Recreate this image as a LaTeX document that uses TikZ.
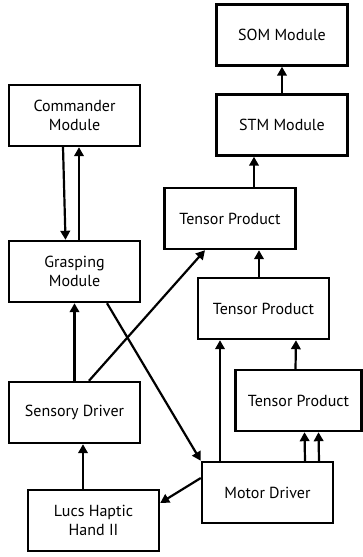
\documentclass[tikz,border=0pt]{standalone}
\usepackage{fontspec}
\setmainfont{PT Sans}
\usetikzlibrary{arrows.meta}
\begin{document}
\begin{tikzpicture}[
  x=1pt, y=-1pt,
  box/.style={rectangle, draw, line width=2.4pt, minimum width=131pt, minimum height=61pt,
    align=center, font=\fontsize{16}{19.5}\selectfont, inner sep=2pt},
  e/.style={line width=2.2pt, -{Triangle[length=9pt,width=9.5pt]}}
]
\useasboundingbox (0,0) rectangle (363,557);
% module boxes
\node[box] (som) at (282,35) {SOM Module};
\node[box] (stm) at (282,125) {STM Module};
\node[box] (comm) at (74.5,115.5) {Commander\\Module};
\node[box] (tp1) at (230,218.5) {Tensor Product};
\node[box] (grasp) at (74.5,271.5) {Grasping\\Module};
\node[box] (tp2) at (263.5,308.5) {Tensor Product};
\node[box, minimum width=126pt] (tp3) at (298.5,400.5) {Tensor Product};
\node[box] (sens) at (74.5,412.5) {Sensory Driver};
\node[box] (motor) at (267.5,492.5) {Motor Driver};
\node[box] (lucs) at (93.5,520.5) {Lucs Haptic\\Hand II};

% vertical links
\draw[e] ([xshift=-11.5pt]comm.south) -- ([xshift=-9pt]grasp.north);
\draw[e] ([xshift=4.5pt]grasp.north) -- ([xshift=4.5pt]comm.south);
\draw[e] (stm.north) -- (som.south);
\draw[e] ([xshift=24pt]tp1.north) -- ([xshift=-28pt]stm.south);
\draw[e] ([xshift=-4.5pt]tp2.north) -- ([xshift=29pt]tp1.south);
\draw[e] ([xshift=-3pt]tp3.north) -- ([xshift=32.5pt]tp2.south);
\draw[e] (sens.north) -- (grasp.south);
\draw[e] ([xshift=-10.5pt]lucs.north) -- ([xshift=8.5pt]sens.south);
\draw[e] ([xshift=-47.5pt]motor.north) -- ([xshift=-43.5pt]tp2.south);
\draw[e] ([xshift=37.5pt]motor.north) -- ([xshift=6pt]tp3.south);
\draw[e] ([xshift=51.5pt]motor.north) -- ([xshift=20pt]tp3.south);

% diagonal links
\draw[e] ([yshift=14.5pt]motor.west) -- ([yshift=17.5pt]lucs.east);
\draw[e] ([xshift=32.5pt]grasp.south) -- (motor.north west);
\draw[e] ([xshift=14.5pt]sens.north) -- ([xshift=-25pt]tp1.south);

\end{tikzpicture}
\end{document}
